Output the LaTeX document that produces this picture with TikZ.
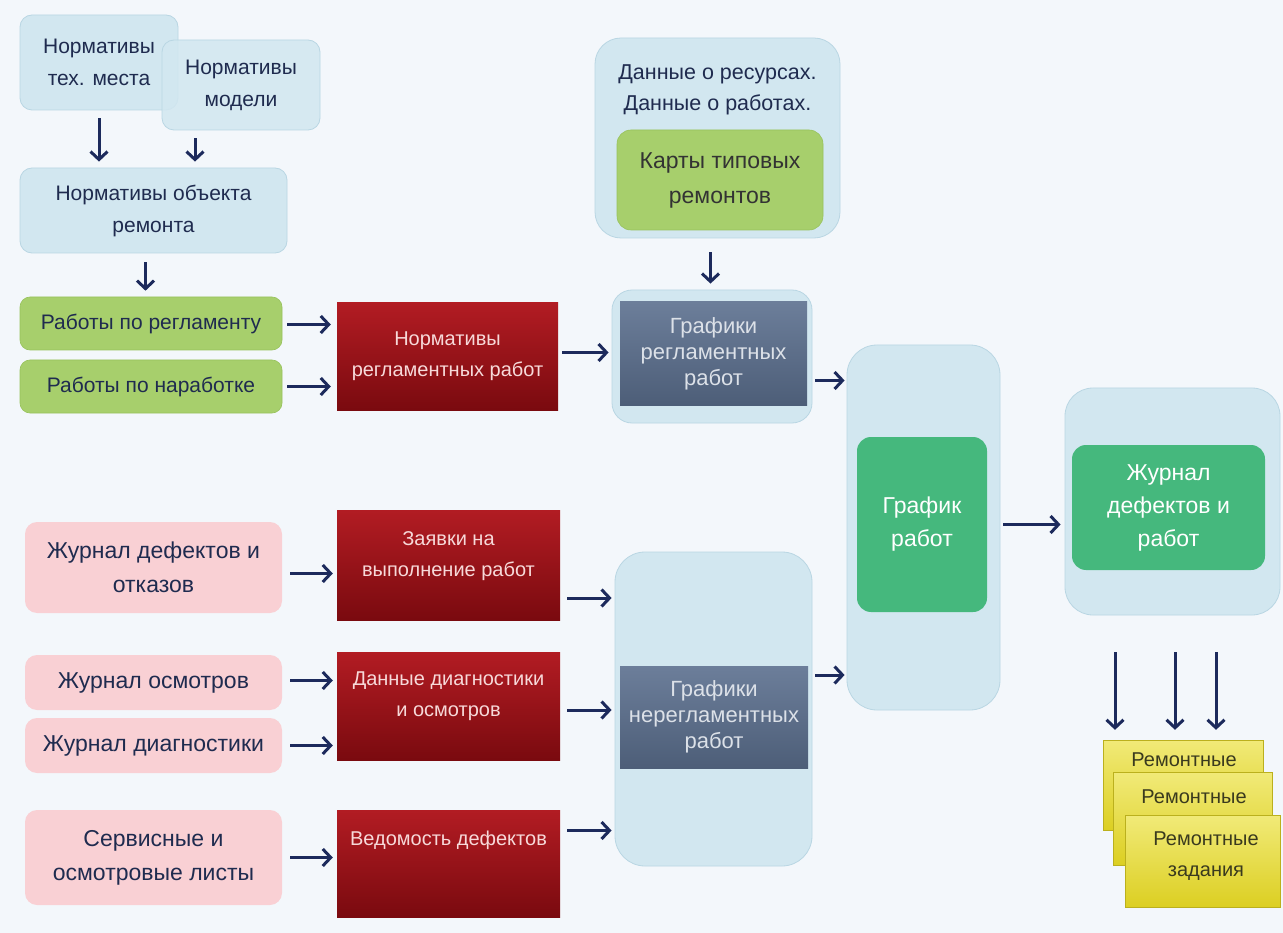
\documentclass[tikz,border=0pt]{standalone}
\usepackage{fontspec}
\setmainfont{Liberation Sans}
\usetikzlibrary{arrows.meta}
\definecolor{bg}{HTML}{F3F7FB}
\definecolor{lblue}{HTML}{D2E7F0}
\definecolor{lblueb}{HTML}{B9D6E3}
\definecolor{navy}{HTML}{1F2B4F}
\definecolor{arr}{HTML}{1C2A5C}
\definecolor{lgreen}{HTML}{A7CF6C}
\definecolor{lgreenb}{HTML}{97C25C}
\definecolor{dgreen}{HTML}{45B87D}
\definecolor{pink}{HTML}{F9D0D4}
\definecolor{redtop}{HTML}{B21C23}
\definecolor{redbot}{HTML}{7A0A0F}
\definecolor{redtxt}{HTML}{F7D9D9}
\definecolor{slatetop}{HTML}{6C7E9A}
\definecolor{slatebot}{HTML}{4D5E78}
\definecolor{slatetxt}{HTML}{DCE1E8}
\definecolor{yeltop}{HTML}{F1EA78}
\definecolor{yelbot}{HTML}{DCCF22}
\definecolor{yeltxt}{HTML}{3A3A1E}
\newcommand\fsz[2]{\fontsize{#1}{#2}\selectfont}
\begin{document}
\begin{tikzpicture}[x=1pt,y=-1pt,
  box/.style={inner sep=0pt, align=center},
  lb/.style={box, rounded corners=12pt, fill=lblue, draw=lblueb, line width=0.8pt, text=navy, font=\fsz{21}{32}},
  cont/.style={box, rounded corners=26pt, fill=lblue, draw=lblueb, line width=0.8pt},
  gr/.style={box, rounded corners=10pt, fill=lgreen, draw=lgreenb, line width=0.6pt, text=navy, font=\fsz{21}{30}},
  dg/.style={box, rounded corners=14pt, fill=dgreen, text=white, font=\fsz{23}{33}},
  pk/.style={box, rounded corners=12pt, fill=pink, text=navy, font=\fsz{23}{34}},
  rd/.style={box, top color=redtop, bottom color=redbot, text=redtxt, font=\fsz{20}{31}},
  rdt/.style={text=redtxt, font=\fsz{20}{31}, align=center},
  sl/.style={box, top color=slatetop, bottom color=slatebot, text=slatetxt, font=\fsz{22}{26}},
  yb/.style={box, top color=yeltop, bottom color=yelbot, draw=yelbot!85!black, line width=0.3pt},
  ytxt/.style={text=yeltxt, font=\fsz{20}{31}, align=center},
  ar/.style={draw=arr, line width=3pt, -{Straight Barb[length=8pt,width=17pt]}}
]
\useasboundingbox (0,0) rectangle (1283,933);
\fill[bg] (0,0) rectangle (1283,933);

% top-left normatives
\node[lb, minimum width=158, minimum height=95] (nt) at (99,62.5) {Нормативы\\тех. места};
\node[lb, fill opacity=0.85, text opacity=1, minimum width=158, minimum height=90] (nm) at (241,85) {Нормативы\\модели};
\node[lb, minimum width=267, minimum height=85] (nobj) at (153.5,210.5) {Нормативы объекта\\ремонта};

\node[gr, minimum width=262, minimum height=53] (rab1) at (151,323.5) {Работы по регламенту};
\node[gr, minimum width=262, minimum height=53] (rab2) at (151,386.5) {Работы по наработке};

\node[rd, minimum width=221, minimum height=107] (normreg) at (447.5,356.5) {Нормативы\\регламентных работ};

% resources container
\node[cont, minimum width=245, minimum height=200] (dannye) at (717.5,138) {};
\node[text=navy, font=\fsz{21.5}{31}, align=center] (dtxt) at (717.5,90) {Данные о ресурсах.\\Данные о работах.};
\node[gr, rounded corners=14pt, minimum width=206, minimum height=100, font=\fsz{23}{35}, text={black!80}] (karty) at (720,180) {Карты типовых\\ремонтов};

\node[cont, rounded corners=20pt, minimum width=200, minimum height=133] (grcont) at (712,356.5) {};
\node[sl, minimum width=187, minimum height=103] (grreg) at (713.5,353.5) {Графики\\регламентных\\работ};

\node[cont, rounded corners=30pt, minimum width=153, minimum height=365] (gcont) at (923.5,527.5) {};
\node[dg, minimum width=130, minimum height=175] (grafik) at (922,524.5) {График\\работ};

\node[cont, rounded corners=28pt, minimum width=215, minimum height=227] (jcont) at (1172.5,501.5) {};
\node[dg, minimum width=193, minimum height=125] (jg) at (1168.5,507.5) {Журнал\\дефектов и\\работ};

% yellow stack
\node[yb, minimum width=160, minimum height=90] (y1) at (1183,785) {};
\node[ytxt] (y1t) at (1184,760) {Ремонтные};
\node[yb, minimum width=159, minimum height=93] (y2) at (1192.5,818.5) {};
\node[ytxt] (y2t) at (1194,797) {Ремонтные};
\node[yb, minimum width=155, minimum height=92] (y3) at (1202.5,861) {};
\node[ytxt] (y3t) at (1206,856) {Ремонтные\\задания};

% lower left
\node[pk, minimum width=257, minimum height=91] (pj1) at (153.5,567.5) {Журнал дефектов и\\отказов};
\node[pk, minimum width=257, minimum height=55] (pj2) at (153.5,682.5) {Журнал осмотров};
\node[pk, minimum width=257, minimum height=55] (pj3) at (153.5,745.5) {Журнал диагностики};
\node[pk, minimum width=257, minimum height=95] (pj4) at (153.5,857.5) {Сервисные и\\осмотровые листы};

\node[rd, minimum width=223, minimum height=110] (zay) at (448.5,565) {};
\node[rdt] (zayt) at (448.5,556) {Заявки на\\выполнение работ};
\node[rd, minimum width=223, minimum height=108] (diag) at (448.5,706) {};
\node[rdt] (diagt) at (448.5,696) {Данные диагностики\\и осмотров};
\node[rd, minimum width=223, minimum height=107] (ved) at (448.5,863.5) {};
\node[rdt] (vedt) at (448.5,840) {Ведомость дефектов};

\node[cont, rounded corners=30pt, minimum width=197, minimum height=314] (nrcont) at (713.5,709) {};
\node[sl, minimum width=188, minimum height=102] (nrs) at (714,717) {Графики\\нерегламентных\\работ};

% arrows
\draw[ar, shorten <=8pt, shorten >=6pt] (nt.south) -- (nt.south |- nobj.north);
\draw[ar, shorten <=8pt, shorten >=6pt] ([xshift=-46]nm.south) -- ([xshift=-46]nm.south |- nobj.north);
\draw[ar, shorten <=9pt, shorten >=6pt] ([xshift=-8]nobj.south) -- ([xshift=-8]nobj.south |- rab1.north);

\draw[ar, shorten <=5pt, shorten >=6pt] ([yshift=-1]rab1.east) -- ([yshift=-1]rab1.east -| normreg.west);
\draw[ar, shorten <=5pt, shorten >=6pt] (rab2.east) -- (rab2.east -| normreg.west);
\draw[ar, shorten <=4pt, shorten >=3pt] ([yshift=4]normreg.east) -- ([yshift=4]normreg.east -| grcont.west);
\draw[ar, shorten <=14pt, shorten >=6pt] ([xshift=-7]dannye.south) -- ([xshift=-7]dannye.south |- grcont.north);
\draw[ar, shorten <=3pt, shorten >=2pt] ([yshift=-24]grcont.east) -- ([yshift=-24]grcont.east -| gcont.west);
\draw[ar, shorten <=3pt, shorten >=4pt] ([yshift=3]gcont.east) -- ([yshift=3]gcont.east -| jcont.west);

\draw[ar, shorten <=37pt, shorten >=10pt] ([xshift=-57.5]jcont.south) -- ([xshift=-57.5]jcont.south |- y1.north);
\draw[ar, shorten <=37pt, shorten >=10pt] ([xshift=2.5]jcont.south) -- ([xshift=2.5]jcont.south |- y1.north);
\draw[ar, shorten <=37pt, shorten >=10pt] ([xshift=43.5]jcont.south) -- ([xshift=43.5]jcont.south |- y1.north);

\draw[ar, shorten <=8pt, shorten >=4pt] ([yshift=-6]pj1.east) -- ([yshift=-6]pj1.east -| zay.west);
\draw[ar, shorten <=8pt, shorten >=4pt] ([yshift=2]pj2.east) -- ([yshift=2]pj2.east -| diag.west);
\draw[ar, shorten <=8pt, shorten >=4pt] (pj3.east) -- (pj3.east -| diag.west);
\draw[ar, shorten <=8pt, shorten >=4pt] (pj4.east) -- (pj4.east -| ved.west);

\draw[ar, shorten <=7pt, shorten >=3pt] ([yshift=-33]zay.east) -- ([yshift=-33]zay.east -| nrcont.west);
\draw[ar, shorten <=7pt, shorten >=3pt] ([yshift=-4]diag.east) -- ([yshift=-4]diag.east -| nrcont.west);
\draw[ar, shorten <=7pt, shorten >=3pt] ([yshift=33]ved.east) -- ([yshift=33]ved.east -| nrcont.west);
\draw[ar, shorten <=3pt, shorten >=2pt] ([yshift=34]nrcont.east) -- ([yshift=34]nrcont.east -| gcont.west);
\end{tikzpicture}
\end{document}
